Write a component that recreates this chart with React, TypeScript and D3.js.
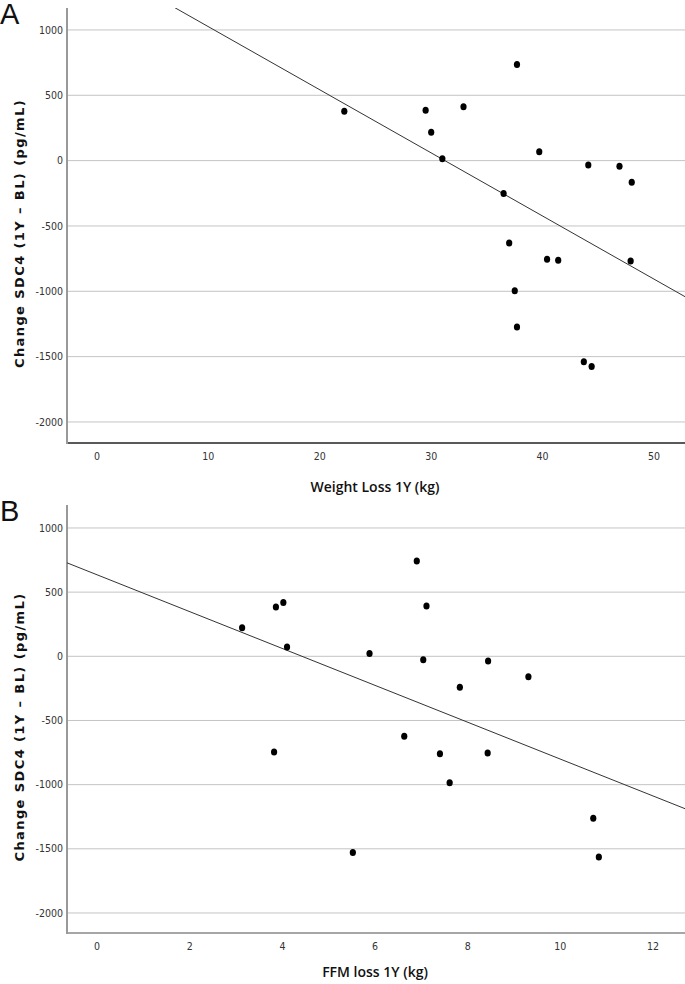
import React from 'react';
import * as d3 from 'd3';

// Panel A: weight loss vs change in SDC4
const weightLoss = [22.2, 29.5, 30.0, 31.0, 32.9, 37.7, 36.5, 39.7, 44.1, 46.9, 48.0, 37.0, 40.4, 41.4, 47.9, 37.5, 37.7, 43.7, 44.4];
const sdcA = [378, 386, 217, 15, 412, 736, -251, 67, -33, -43, -166, -631, -754, -762, -769, -995, -1273, -1539, -1575];

// Panel B: FFM loss vs change in SDC4
const ffmLoss = [6.9, 3.86, 4.02, 7.11, 3.13, 4.1, 5.88, 7.04, 8.44, 9.31, 7.83, 6.63, 3.82, 7.4, 8.43, 7.61, 10.71, 5.52, 10.83];
const sdcB = [742, 384, 420, 392, 223, 73, 21, -26, -36, -160, -241, -622, -746, -759, -754, -985, -1262, -1529, -1563];

// fit lines (intercept, slope)
const fitA = [1508, -48.3];
const fitB = [635, -143.6];

const yTicks = [1000, 500, 0, -500, -1000, -1500, -2000];
const xTicksA = [0, 10, 20, 30, 40, 50];
const xTicksB = [0, 2, 4, 6, 8, 10, 12];

const yTitle = 'Change SDC4 (1Y \u2013 BL) (pg/mL)';

const tickFont = '"DejaVu Sans Condensed", "Liberation Sans Narrow", "Roboto Condensed", "Liberation Sans", sans-serif';

interface PanelProps {
  id: string;
  letter: string;
  xs: number[];
  ys: number[];
  fit: number[];
  xDomain: [number, number];
  yDomain: [number, number];
  xTicks: number[];
  top: number;
  bottom: number;
  xTitle: string;
  titleOffset: number;
  bottomAxisColor: string;
}

function Panel(p: PanelProps) {
  const left = 67;
  const right = 685;
  const x = d3.scaleLinear().domain(p.xDomain).range([left, right]);
  const y = d3.scaleLinear().domain(p.yDomain).range([p.bottom, p.top]);
  const [b0, b1] = p.fit;
  const line = d3.line<number>().x(d => x(d)).y(d => y(b0 + b1 * d));
  const mid = (p.top + p.bottom) / 2;

  return (
    <g>
      <defs>
        <clipPath id={`clip-${p.id}`}>
          <rect x={left} y={p.top} width={right - left} height={p.bottom - p.top} />
        </clipPath>
      </defs>
      <text x={0} y={p.top + 16} fontFamily='"Liberation Sans", Arial, sans-serif' fontSize={29} fill="#111">{p.letter}</text>

      {yTicks.map(t => (
        <g key={t}>
          <line x1={left} x2={right} y1={y(t)} y2={y(t)} stroke="#c4c4c4" strokeWidth={1} />
          <text x={63} y={y(t)} dy="0.35em" textAnchor="end" fontFamily={tickFont} fontSize={10.5} fill="#333">{t}</text>
        </g>
      ))}

      {p.xTicks.map(t => (
        <text key={t} x={x(t)} y={p.bottom + 17} textAnchor="middle" fontFamily={tickFont} fontSize={10.5} fill="#333">{t}</text>
      ))}

      <line x1={left} x2={right} y1={p.bottom} y2={p.bottom} stroke={p.bottomAxisColor} strokeWidth={1.6} />
      <line x1={left} x2={left} y1={p.top} y2={p.bottom + 1} stroke="#999" strokeWidth={2} />

      <path d={line(p.xDomain) ?? ''} clipPath={`url(#clip-${p.id})`} fill="none" stroke="#333" strokeWidth={1} />

      {p.xs.map((v, i) => (
        <ellipse key={i} cx={x(v)} cy={y(p.ys[i])} rx={3.1} ry={3.5} fill="#000" />
      ))}

      <text x={375} y={p.bottom + p.titleOffset} textAnchor="middle" fontFamily='"Open Sans", "Noto Sans", sans-serif' fontWeight={600} fontSize={14} fill="#111">{p.xTitle}</text>
      <text transform={`translate(24,${mid + 8}) rotate(-90)`} textAnchor="middle" fontFamily='"DejaVu Sans", Verdana, sans-serif' fontWeight="bold" fontSize={13} letterSpacing={1.4} fill="#111">{yTitle}</text>
    </g>
  );
}

export default function App() {
  return (
    <div style={{ position: 'absolute', left: 0, top: 0, background: '#fff' }}>
      <svg width={685} height={984} style={{ display: 'block' }}>
        <rect width={685} height={984} fill="#fff" />
        <Panel
          id="a"
          letter="A"
          xs={weightLoss}
          ys={sdcA}
          fit={fitA}
          xDomain={[-2.69, 52.78]}
          yDomain={[-2161, 1168]}
          xTicks={xTicksA}
          top={8}
          bottom={443}
          xTitle="Weight Loss 1Y (kg)"
          titleOffset={49}
          bottomAxisColor="#222"
        />
        <Panel
          id="b"
          letter="B"
          xs={ffmLoss}
          ys={sdcB}
          fit={fitB}
          xDomain={[-0.65, 12.69]}
          yDomain={[-2156, 1179]}
          xTicks={xTicksB}
          top={505}
          bottom={933}
          xTitle="FFM loss 1Y (kg)"
          titleOffset={44}
          bottomAxisColor="#888"
        />
      </svg>
    </div>
  );
}
